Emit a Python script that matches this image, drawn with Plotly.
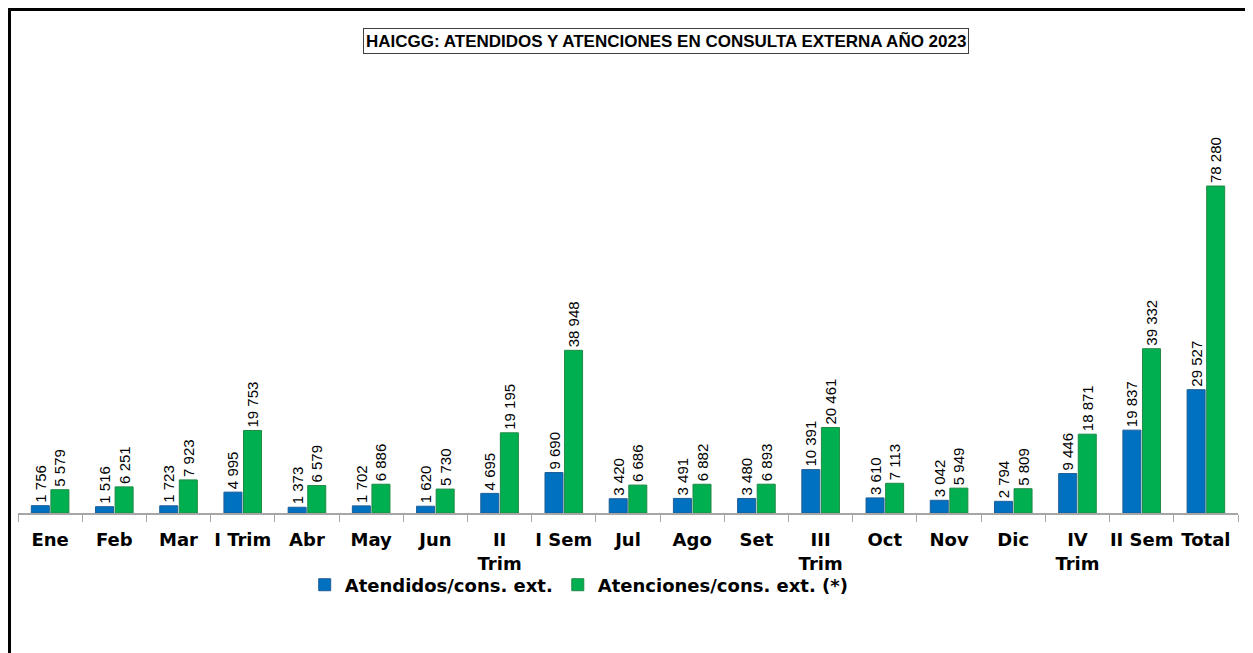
import plotly.graph_objects as go

categories = ["Ene", "Feb", "Mar", "I Trim", "Abr", "May", "Jun", "II<br>Trim", "I Sem",
              "Jul", "Ago", "Set", "III<br>Trim", "Oct", "Nov", "Dic", "IV<br>Trim", "II Sem", "Total"]
atendidos = [1756, 1516, 1723, 4995, 1373, 1702, 1620, 4695, 9690,
             3420, 3491, 3480, 10391, 3610, 3042, 2794, 9446, 19837, 29527]
atenciones = [5579, 6251, 7923, 19753, 6579, 6886, 5730, 19195, 38948,
              6686, 6882, 6893, 20461, 7113, 5949, 5809, 18871, 39332, 78280]

def fmt(v):
    return f"{v:,}".replace(",", " ")

label_font = dict(family="Liberation Sans, Arial", size=15, color="black")

fig = go.Figure()
fig.add_trace(go.Bar(
    x=categories, y=atendidos, name="Atendidos/cons. ext.",
    marker=dict(color="#0070C0", line=dict(color="#1F5E96", width=1)),
    text=[fmt(v) for v in atendidos], textposition="outside", textangle=-90,
    textfont=label_font, constraintext="none", cliponaxis=False,
))
fig.add_trace(go.Bar(
    x=categories, y=atenciones, name="Atenciones/cons. ext. (*)",
    marker=dict(color="#00B050", line=dict(color="#1E8A45", width=1)),
    text=[fmt(v) for v in atenciones], textposition="outside", textangle=-90,
    textfont=label_font, constraintext="none", cliponaxis=False,
))

fig.update_layout(
    width=1253, height=653,
    margin=dict(l=10, r=23, t=52, b=148, autoexpand=False),
    paper_bgcolor="white", plot_bgcolor="white",
    barmode="group", bargap=0.39, bargroupgap=0.08,
    showlegend=True,
    legend=dict(orientation="h", x=0.46, y=-0.159, xanchor="center", yanchor="middle",
                font=dict(family="DejaVu Sans", size=18, color="black", weight="bold"),
                tracegroupgap=0, bgcolor="rgba(0,0,0,0)"),
    xaxis=dict(
        type="category", showline=True, linecolor="#A6A6A6", linewidth=1.5,
        ticks="outside", tickson="boundaries", ticklen=7, tickcolor="#A6A6A6",
        tickangle=0, automargin=False, ticklabelstandoff=10,
        tickfont=dict(family="DejaVu Sans", size=18, color="black", weight="bold"),
        showgrid=False, fixedrange=True,
    ),
    yaxis=dict(range=[0, 108450], visible=False, showgrid=False, fixedrange=True,
               automargin=False),
    annotations=[dict(
        text="<b>HAICGG: ATENDIDOS Y ATENCIONES EN CONSULTA EXTERNA AÑO 2023</b>",
        xref="paper", yref="paper", x=0.531, y=1.042, xanchor="center", yanchor="middle",
        showarrow=False, bordercolor="#404040", borderwidth=1, borderpad=2,
        font=dict(family="Liberation Sans Narrow, Arial Narrow, Liberation Sans", size=17, color="black"),
    )],
    shapes=[dict(type="rect", xref="paper", yref="paper",
                 x0=-0.00697, y0=-0.5, x1=1.03, y1=1.1115,
                 line=dict(color="black", width=3))],
)

fig.write_html("out.html")
